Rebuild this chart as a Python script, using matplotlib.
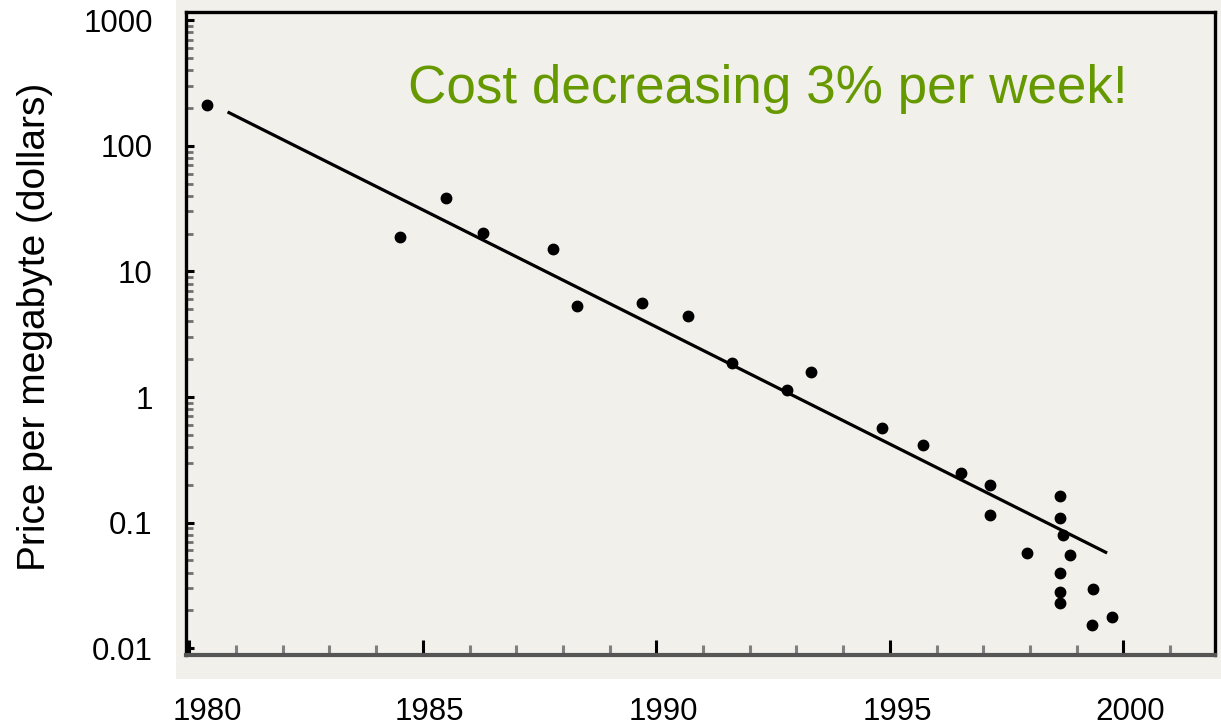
import matplotlib as mpl
import matplotlib.pyplot as plt
import matplotlib.transforms as mtransforms
from matplotlib.patches import Rectangle
from matplotlib.ticker import FixedLocator, LogLocator, NullFormatter

# price per megabyte
years = [1980.37, 1984.51, 1985.49, 1986.28, 1987.78, 1988.30, 1989.69,
         1990.68, 1991.62, 1992.79, 1993.31, 1994.83, 1995.71, 1996.52,
         1997.14, 1997.14, 1998.64, 1998.64, 1998.70, 1997.93, 1998.85,
         1998.64, 1998.64, 1998.64, 1999.35, 1999.33, 1999.76]
prices = [211, 18.8, 38.4, 20.2, 15.1, 5.30, 5.60,
          4.42, 1.87, 1.14, 1.58, 0.567, 0.415, 0.248,
          0.199, 0.115, 0.163, 0.109, 0.0796, 0.0573, 0.0552,
          0.0397, 0.0280, 0.0229, 0.0296, 0.0153, 0.0177]

# fitted trend line end points
fit_years = [1980.82, 1999.65]
fit_prices = [186, 0.0573]

x_ticks = [1980, 1985, 1990, 1995, 2000]
y_ticks = [0.01, 0.1, 1, 10, 100, 1000]
y_tick_labels = ['0.01', '0.1', '1', '10', '100', '1000']

mpl.rcParams['font.family'] = 'Liberation Sans'

bg = '#f2f0eb'
W, H = 1221, 726
fig = plt.figure(figsize=(W / 100, H / 100), dpi=100)
fig.patch.set_facecolor('white')
# pasted-image backdrop
fig.patches.append(Rectangle((176 / W, 1 - 679 / H), 1 - 176 / W, 679 / H,
                             transform=fig.transFigure, facecolor=bg,
                             edgecolor='none', zorder=-5))

ax = fig.add_axes([186 / W, 1 - 655 / H, (1215 - 186) / W, (655 - 12) / H])
ax.set_zorder(2)
ax.set_facecolor(bg)

ax.plot(fit_years, fit_prices, color='black', lw=2.3, solid_capstyle='butt', zorder=3)
ax.plot(years, prices, 'o', color='black', ms=7.5, zorder=4)

ax.set_yscale('log')
ax.set_xlim(1979.93, 2001.96)
ax.set_ylim(0.00883, 1162)

ax.xaxis.set_major_locator(FixedLocator(x_ticks))
ax.xaxis.set_minor_locator(FixedLocator(range(1981, 2002)))
ax.set_xticklabels([str(y) for y in x_ticks])
ax.yaxis.set_major_locator(FixedLocator(y_ticks))
ax.set_yticklabels(y_tick_labels)
ax.yaxis.set_minor_locator(LogLocator(base=10, subs=range(2, 10)))
ax.yaxis.set_minor_formatter(NullFormatter())

ax.tick_params(axis='x', which='major', direction='in', length=11, width=2.2,
               color='black', labelsize=22.5, pad=30)
ax.tick_params(axis='x', which='minor', direction='in', length=7, width=2.2,
               color='#808080')
ax.tick_params(axis='y', which='major', direction='in', length=6, width=2.2,
               color='black', labelsize=22.5, pad=24)
ax.tick_params(axis='y', which='minor', direction='in', length=5, width=2.0,
               color='#707070')

# labels sit a little right of their ticks in the original
for i, lbl in enumerate(ax.get_xticklabels()):
    dx = 18 if i == 0 else 7
    shift = mtransforms.ScaledTranslation(dx / 100, 0, fig.dpi_scale_trans)
    lbl.set_transform(lbl.get_transform() + shift)

for side in ['left', 'top', 'right']:
    ax.spines[side].set_color('black')
    ax.spines[side].set_linewidth(2.4)
ax.spines['bottom'].set_color('#555555')
ax.spines['bottom'].set_linewidth(3.0)

ax.text(0.2157, 0.8585, 'Cost decreasing 3% per week!', transform=ax.transAxes,
        color='#669900', fontsize=38.2, ha='left', va='baseline')

fig.text(35 / W, 1 - 327 / H, 'Price per megabyte (dollars)', rotation=90,
         ha='center', va='center', fontsize=28)

fig.savefig('out.png', dpi=100)
